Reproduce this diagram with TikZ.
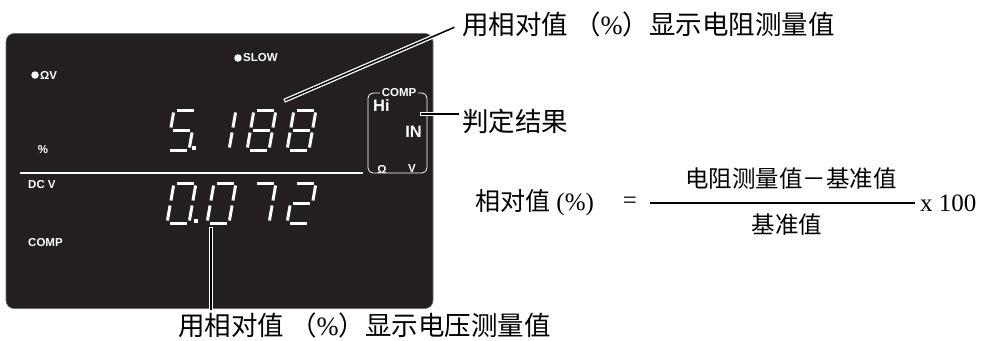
\documentclass[tikz,border=0pt]{standalone}
\usepackage{fontspec}
\setmainfont{Liberation Serif}
\setsansfont{Liberation Sans}
\newfontfamily\cjk{Noto Sans CJK SC}
\usepackage{xcolor}
\usepackage{tikz}
\usetikzlibrary{positioning}
\definecolor{lcdbg}{HTML}{231F20}
\definecolor{lcdedge}{HTML}{6D6E71}

\tikzset{
  seg a/.style={insert path={(2.5,0) -- (19.5,0)}},
  seg b/.style={insert path={(22,2.5) -- (22,17.5)}},
  seg c/.style={insert path={(22,22.5) -- (22,37.5)}},
  seg d/.style={insert path={(2.5,40) -- (19.5,40)}},
  seg e/.style={insert path={(0,22.5) -- (0,37.5)}},
  seg f/.style={insert path={(0,2.5) -- (0,17.5)}},
  seg g/.style={insert path={(2.5,20) -- (19.5,20)}},
  segline/.style={draw=white, line width=3pt}
}
\newcommand{\lcddigit}[3]{%
  \begin{scope}[shift={(#1,#2)}, xslant=0.175]
    \foreach \s in {#3} \draw[segline, seg \s];
  \end{scope}}

\begin{document}
\begin{tikzpicture}[
  x=1pt, y=-1pt,
  panelbox/.style={draw=lcdedge, fill=lcdbg, line width=0.6pt, rounded corners=8pt,
    minimum width=427pt, minimum height=275pt, inner sep=0pt},
  lcdtext/.style={text=white, font=\sffamily\bfseries\fontsize{11.5}{13}\selectfont, inner sep=0pt},
  lcdbig/.style={lcdtext, font=\sffamily\bfseries\fontsize{16.5}{18}\selectfont},
  lcddot/.style={circle, fill=white, minimum size=7.5pt, inner sep=0pt},
  lcdpt/.style={rectangle, fill=white, minimum size=4pt, inner sep=0pt},
  sepline/.style={draw=white, line width=2pt},
  callout/.style={draw=white, line width=1.3pt, double=black, double distance=1.5pt, line cap=rect},
  label/.style={font=\cjk\fontsize{26.5}{30}\selectfont, inner sep=0pt},
  formula/.style={font=\fontsize{25}{28}\selectfont, inner sep=0pt},
  fracpart/.style={font=\cjk\fontsize{23.5}{28}\selectfont, inner sep=0pt},
  fracbar/.style={draw=black, line width=1.8pt}
]
  \useasboundingbox (0,0) rectangle (984,340);

  \node[panelbox] (panel) at (219.5,171) {};

  \node[lcddot] (dotOV) at (35,75) {};
  \node[lcdtext, anchor=west] (modeOV) at (40,75) {ΩV};
  \node[lcddot] (dotSlow) at (238,58) {};
  \node[lcdtext, anchor=west] (slow) at (243,58) {SLOW};
  \node[lcdtext] (pct) at (43,150) {\%};
  \node[lcdtext, anchor=west] (dcv) at (28,185) {DC V};
  \node[lcdtext, anchor=west] (compL) at (28,243) {COMP};

  \coordinate (sepL) at (20,173);
  \coordinate (sepR) at (363,173);
  \draw[sepline] (sepL) -- (sepR);

  \lcddigit{174}{110}{a,f,g,c,d}
  \lcddigit{214}{110}{b,c}
  \lcddigit{254}{110}{a,b,c,d,e,f,g}
  \lcddigit{294}{110}{a,b,c,d,e,f,g}
  \node[lcdpt] (pt1) at (194,148) {};

  \lcddigit{174}{183}{a,b,c,d,e,f}
  \lcddigit{214}{183}{a,b,c,d,e,f}
  \lcddigit{254}{183}{a,b,c}
  \lcddigit{294}{183}{a,b,g,e,d}
  \node[lcdpt] (pt2) at (196,221) {};

  \node[draw=white, line width=0.8pt, rounded corners=5pt,
        minimum width=59pt, minimum height=80pt] (compbox) at (397.5,133) {};
  \node[lcdtext, fill=lcdbg, inner xsep=2pt, inner ysep=1pt] (compT) at (399,93) {COMP};
  \node[lcdbig, anchor=west] (hi) at (373,106) {Hi};
  \node[lcdbig, anchor=east] (in) at (422,132) {IN};
  \node[lcdtext] (ohm) at (382,169) {Ω};
  \node[lcdtext] (volt) at (412,169) {V};

  \node[label, anchor=west] (lblR) at (462,24) {用相对值 （{\rmfamily\%}）显示电阻测量值};
  \node[label, anchor=west] (lblJ) at (462,121) {判定结果};
  \node[label, anchor=west] (lblV) at (178,325) {用相对值 （{\rmfamily\%}）显示电压测量值};

  \coordinate (ptR) at (286,100);
  \coordinate (ptJ) at (422,114);
  \coordinate (ptV) at (211,229);
  \draw[callout, shorten >=9pt] (ptR) -- (lblR.west);
  \draw[callout, shorten >=4pt] (ptJ) -- (ptJ -| lblJ.west);
  \draw[callout] (ptV) -- (ptV |- panel.south);

  \node[formula, anchor=west] (relv) at (475,203) {{\cjk 相对值} (\%)};
  \node[formula] (eq) at (630,203) {=};
  \coordinate (barL) at (650,203);
  \coordinate (barR) at (915,203);
  \draw[fracbar] (barL) -- (barR);
  \node[fracpart] (num) at (791,179) {电阻测量值－基准值};
  \node[fracpart] (den) at (787,225) {基准值};
  \node[formula, anchor=west] (times) at (920,203) {x 100};
\end{tikzpicture}
\end{document}
